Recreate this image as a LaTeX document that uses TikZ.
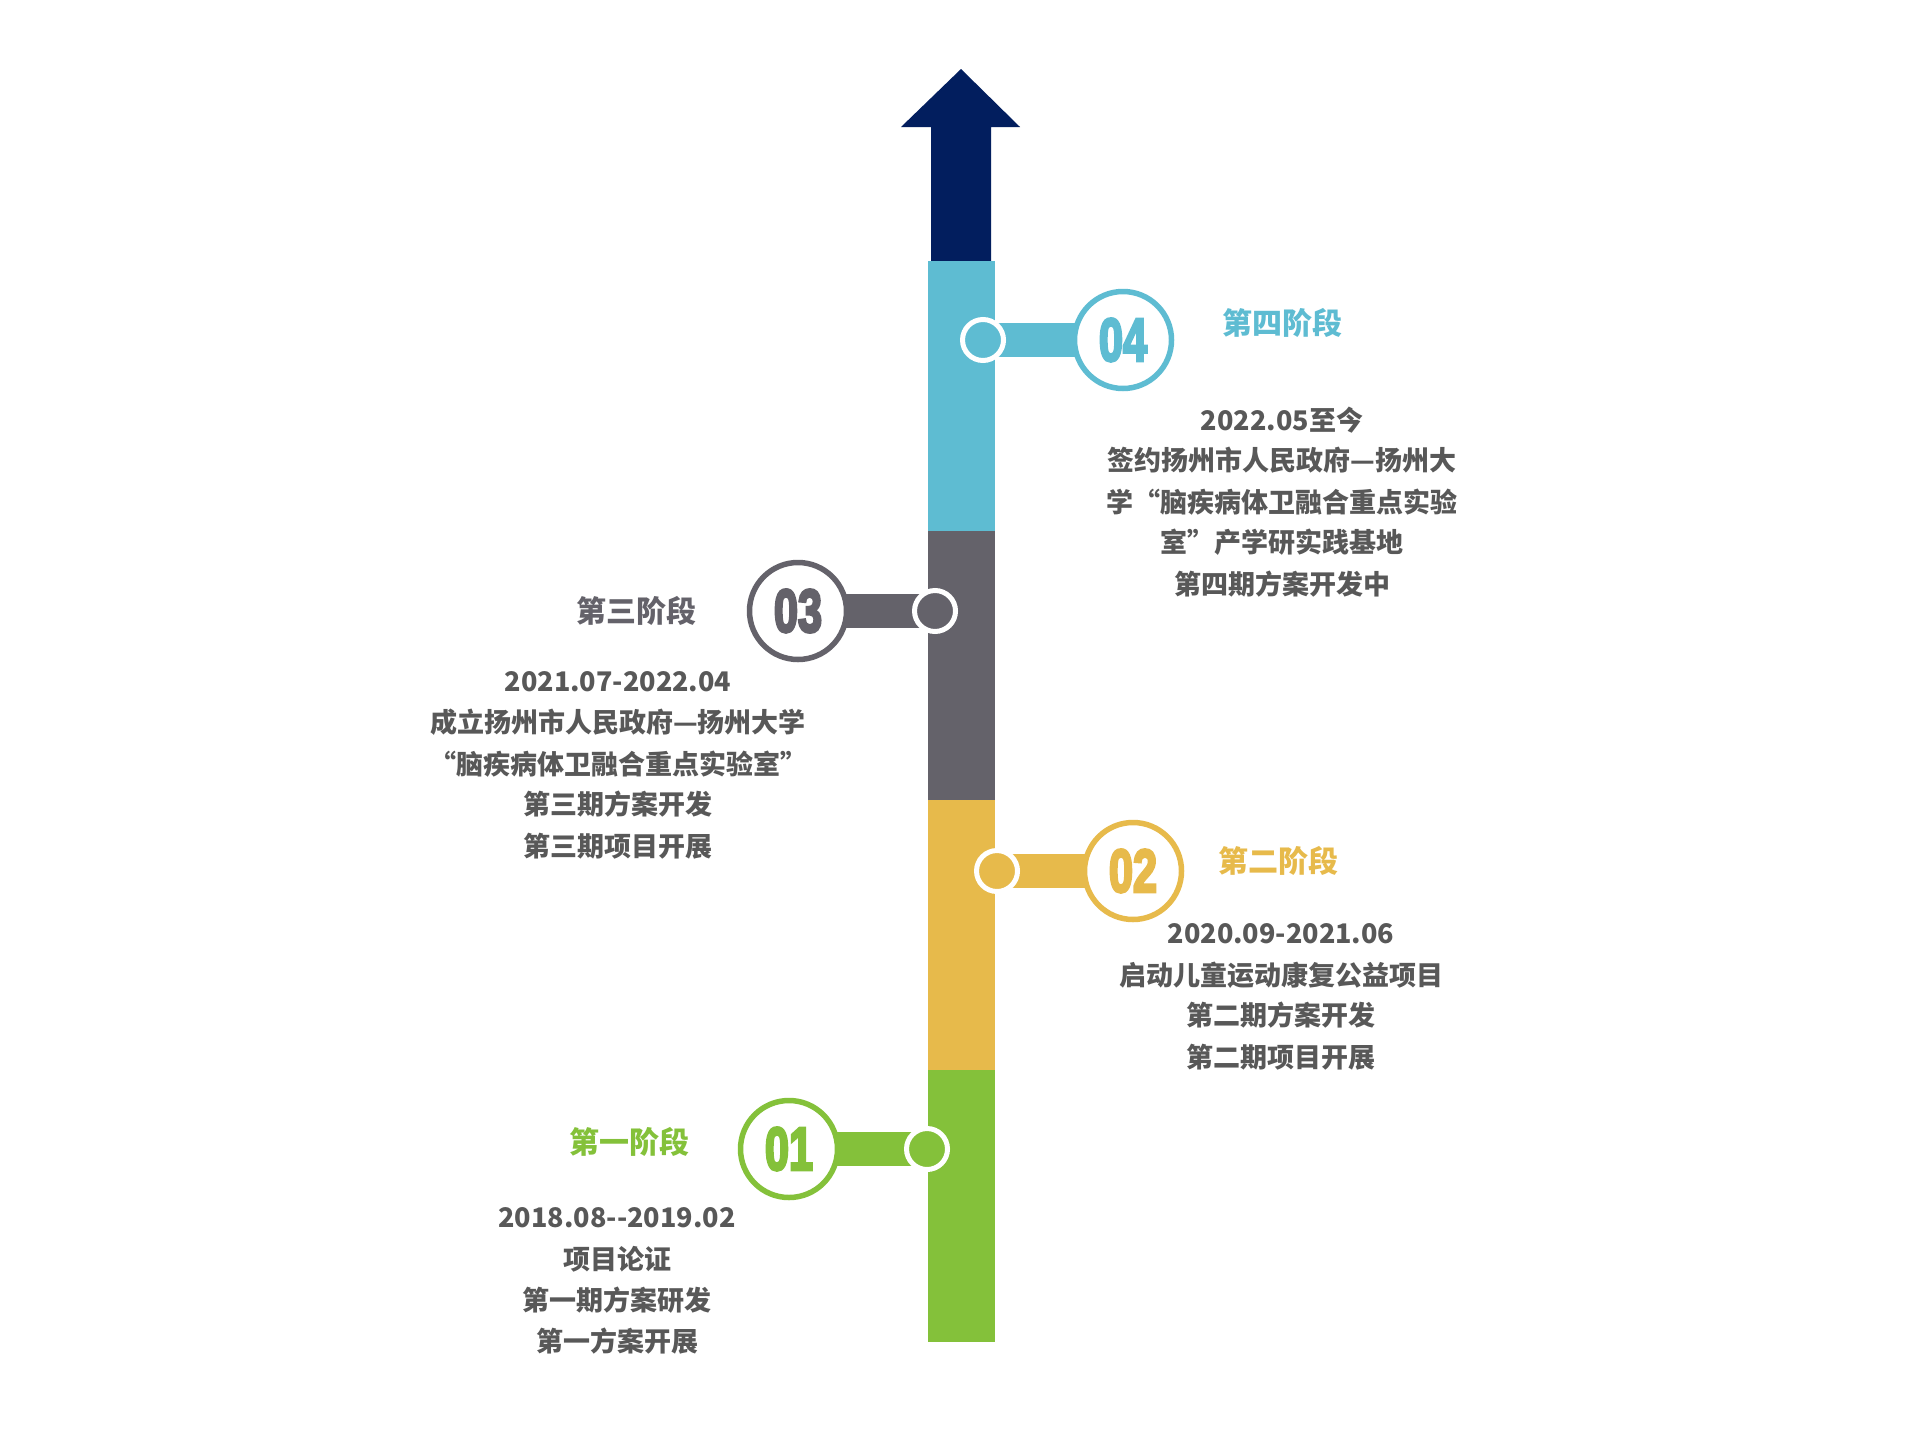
\documentclass[tikz,border=0pt]{standalone}
\usepackage{fontspec}
\setmainfont{Noto Sans CJK SC}
\newfontfamily\numfont{Liberation Sans}[FakeBold=5, BoldFeatures={FakeBold=5}]
\definecolor{navy}{HTML}{021E5E}
\definecolor{cblue}{HTML}{5EBCD2}
\definecolor{cgray}{HTML}{64626A}
\definecolor{cyellow}{HTML}{E7BA4B}
\definecolor{cgreen}{HTML}{84C13A}
\definecolor{txtgray}{HTML}{585858}
\newcommand{\bignum}[1]{\scalebox{0.8}[1.12]{#1}}
\begin{document}
\begin{tikzpicture}[x=0.5pt,y=-0.5pt,
  body/.style={font=\fontsize{13.5}{16}\selectfont\bfseries, text=txtgray, inner sep=0pt, anchor=base},
  ttl/.style={font=\fontsize{15}{18}\selectfont\bfseries, inner sep=0pt, anchor=base},
  smallc/.style={circle, inner sep=0pt, minimum size=20.5pt, line width=2.5pt, draw=white, fill=#1},
  bigc/.style={circle, inner sep=0pt, minimum size=48.5pt, line width=2.75pt, draw=#1, fill=white, text=#1,
    font=\numfont\bfseries\fontsize{27}{29}\selectfont},
  link/.style={line width=17pt, draw=#1}]
\useasboundingbox (0,0) rectangle (1920,1440);
\fill[white] (0,0) rectangle (1920,1440);
% arrow
\fill[navy] (931,262) -- (931,127) -- (901,127) -- (961,69) -- (1020,127) -- (991,127) -- (991,262) -- cycle;
% bar
\fill[cblue] (928,261) rectangle (995,531);
\fill[cgray] (928,531) rectangle (995,800);
\fill[cyellow] (928,800) rectangle (995,1070);
\fill[cgreen] (928,1070) rectangle (995,1342);
% anchor points
\coordinate (s4) at (983,340);  \coordinate (b4) at (1123,340);
\coordinate (s3) at (935,611);  \coordinate (b3) at (798,611);
\coordinate (s2) at (997,871);  \coordinate (b2) at (1133,871);
\coordinate (s1) at (927,1149); \coordinate (b1) at (789,1149);
% connectors
\draw[link=cblue] (s4) -- (b4);
\draw[link=cgray] (s3) -- (b3);
\draw[link=cyellow] (s2) -- (b2);
\draw[link=cgreen] (s1) -- (b1);
% circles
\node[smallc=cblue] (n4s) at (s4) {};
\node[bigc=cblue] (n4b) at (b4) {\bignum{04}};
\node[smallc=cgray] (n3s) at (s3) {};
\node[bigc=cgray] (n3b) at (b3) {\bignum{03}};
\node[smallc=cyellow] (n2s) at (s2) {};
\node[bigc=cyellow] (n2b) at (b2) {\bignum{02}};
\node[smallc=cgreen] (n1s) at (s1) {};
\node[bigc=cgreen] (n1b) at (b1) {\bignum{01}};
% stage 4
\node[ttl, text=cblue] (t4) at (1282,334) {第四阶段};
\node[body] (l41) at (1282,430) {2022.05至今};
\node[body] (l42) at (1282,470) {签约扬州市人民政府—扬州大};
\node[body] (l43) at (1282,512) {学“脑疾病体卫融合重点实验};
\node[body] (l44) at (1282,552) {室”产学研实践基地};
\node[body] (l45) at (1282,594) {第四期方案开发中};
% stage 3
\node[ttl, text=cgray] (t3) at (636,622) {第三阶段};
\node[body] (l31) at (618,691) {2021.07-2022.04};
\node[body] (l32) at (618,732) {成立扬州市人民政府—扬州大学};
\node[body] (l33) at (618,774) {“脑疾病体卫融合重点实验室”};
\node[body] (l34) at (618,814) {第三期方案开发};
\node[body] (l35) at (618,856) {第三期项目开展};
% stage 2
\node[ttl, text=cyellow] (t2) at (1278,872) {第二阶段};
\node[body] (l21) at (1281,943) {2020.09-2021.06};
\node[body] (l22) at (1281,985) {启动儿童运动康复公益项目};
\node[body] (l23) at (1281,1025) {第二期方案开发};
\node[body] (l24) at (1281,1067) {第二期项目开展};
% stage 1
\node[ttl, text=cgreen] (t1) at (629,1153) {第一阶段};
\node[body] (l11) at (617,1227) {2018.08-{}-2019.02};
\node[body] (l12) at (617,1269) {项目论证};
\node[body] (l13) at (617,1310) {第一期方案研发};
\node[body] (l14) at (617,1351) {第一方案开展};
\end{tikzpicture}
\end{document}
